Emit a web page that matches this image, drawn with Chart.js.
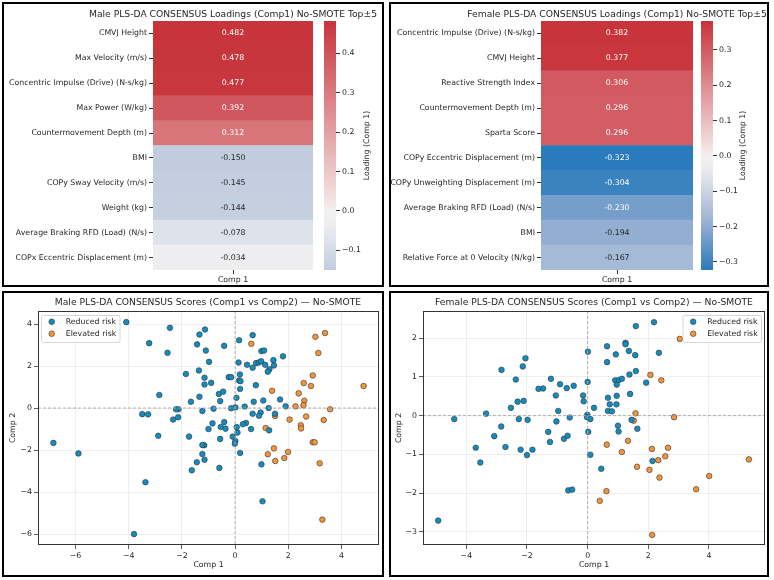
<!DOCTYPE html>
<html>
<head>
<meta charset="utf-8">
<script src="https://cdn.jsdelivr.net/npm/chart.js@4.4.1/dist/chart.umd.min.js"></script>
<style>
  html, body { margin: 0; padding: 0; background: #fff; }
  body { width: 774px; height: 580px; position: relative; overflow: hidden; font-family: "DejaVu Sans", sans-serif; }
  canvas { position: absolute; }
  .frame { position: absolute; border: 2px solid #000; box-sizing: border-box; pointer-events: none; z-index: 5; }
  .title { position: absolute; width: 400px; text-align: center; font-size: 9.2px; line-height: 12px; color: #262626; white-space: nowrap; z-index: 4; }
</style>
</head>
<body>
<canvas id="maleHeat" width="387" height="290" style="left:0;top:0"></canvas>
<canvas id="maleBar" width="67" height="290" style="left:320px;top:0"></canvas>
<canvas id="femaleHeat" width="387" height="290" style="left:387px;top:0"></canvas>
<canvas id="femaleBar" width="67" height="290" style="left:697px;top:0"></canvas>
<canvas id="maleScores" width="387" height="290" style="left:0;top:290px"></canvas>
<canvas id="femaleScores" width="387" height="290" style="left:387px;top:290px"></canvas>

<div class="title" style="left:33px;top:8px">Male PLS-DA CONSENSUS Loadings (Comp1) No-SMOTE Top±5</div>
<div class="title" style="left:417px;top:8px">Female PLS-DA CONSENSUS Loadings (Comp1) No-SMOTE Top±5</div>
<div class="title" style="left:8px;top:296px">Male PLS-DA CONSENSUS Scores (Comp1 vs Comp2) — No-SMOTE</div>
<div class="title" style="left:394px;top:296px">Female PLS-DA CONSENSUS Scores (Comp1 vs Comp2) — No-SMOTE</div>

<div class="frame" style="left:2px;top:2px;width:382px;height:285px"></div>
<div class="frame" style="left:389px;top:2px;width:380px;height:285px"></div>
<div class="frame" style="left:2px;top:291px;width:382px;height:286px"></div>
<div class="frame" style="left:389px;top:291px;width:380px;height:286px"></div>

<script>
// loadings (top 5 positive / top 5 negative on comp 1)
var maleFeatures = [
  "CMVJ Height", "Max Velocity (m/s)", "Concentric Impulse (Drive) (N-s/kg)",
  "Max Power (W/kg)", "Countermovement Depth (m)", "BMI", "COPy Sway Velocity (m/s)",
  "Weight (kg)", "Average Braking RFD (Load) (N/s)", "COPx Eccentric Displacement (m)"
];
var maleLoadings = [0.482, 0.478, 0.477, 0.392, 0.312, -0.150, -0.145, -0.144, -0.078, -0.034];
var maleBarTicks = [-0.1, 0.0, 0.1, 0.2, 0.3, 0.4];

var femaleFeatures = [
  "Concentric Impulse (Drive) (N-s/kg)", "CMVJ Height", "Reactive Strength Index",
  "Countermovement Depth (m)", "Sparta Score", "COPy Eccentric Displacement (m)",
  "COPy Unweighting Displacement (m)", "Average Braking RFD (Load) (N/s)", "BMI",
  "Relative Force at 0 Velocity (N/kg)"
];
var femaleLoadings = [0.382, 0.377, 0.306, 0.296, 0.296, -0.323, -0.304, -0.230, -0.194, -0.167];
var femaleBarTicks = [-0.3, -0.2, -0.1, 0.0, 0.1, 0.2, 0.3];

// scores [comp1, comp2]
var maleReduced = [
  [-4.09,4.09],[-2.45,3.82],[-3.23,3.09],[-2.54,2.63],[-1.34,3.50],[-1.13,3.74],[-1.43,3.03],
  [-1.10,2.74],[-0.41,2.96],[-0.98,2.20],[-1.85,1.62],[-1.36,1.79],[-1.15,1.44],[-0.90,1.20],
  [-1.15,1.12],[-2.85,0.62],[-1.66,0.30],[-1.34,0.54],[-1.23,-0.14],[-0.81,-0.03],[-0.61,0.67],
  [-0.45,0.78],[-0.56,0.33],[-0.24,1.47],[-0.15,1.47],[0.15,3.23],[0.66,3.47],[0.13,2.17],
  [0.18,1.60],[0.15,1.31],[0.20,1.28],[0.19,0.91],[0.05,0.49],[0.45,2.06],[0.66,1.92],
  [0.79,2.14],[0.89,2.17],[0.99,2.71],[1.09,2.74],[0.98,2.23],[1.13,2.06],[1.44,2.28],
  [1.46,2.03],[1.80,2.46],[1.29,1.85],[1.23,1.73],[0.78,1.09],[0.70,0.30],[1.06,0.36],
  [1.69,0.41],[1.26,0.00],[1.90,0.08],[0.36,0.07],[0.01,0.03],[-0.15,-0.01],[0.66,-0.27],
  [0.96,-0.21],[0.90,-0.37],[1.50,-0.27],[1.28,-1.06],[0.60,-1.00],[0.41,-0.71],[0.29,-0.77],
  [0.06,-0.91],[0.09,-1.17],[-0.09,-1.36],[0.01,-1.57],[-0.01,-1.70],[0.19,-2.14],[0.99,-2.68],
  [1.03,-4.44],[-0.41,-0.67],[-0.54,-0.90],[-0.36,-0.98],[-1.00,-1.00],[-0.85,-0.73],
  [-0.56,-1.47],[-0.59,-2.85],[-1.16,-1.77],[-1.23,-1.76],[-1.23,-2.19],[-1.15,-2.46],
  [-1.44,-2.58],[-1.63,-2.96],[-1.73,-1.36],[-2.13,-0.06],[-2.22,-0.06],[-2.14,-0.44],
  [-2.33,-0.55],[-2.89,-1.32],[-3.49,-0.29],[-3.27,-0.30],[-3.37,-3.53],[-3.80,-6.00],
  [-6.83,-1.66],[-5.89,-2.16]
];
var maleElevated = [
  [0.61,3.06],[3.02,3.39],[3.38,3.57],[3.13,2.62],[2.92,1.55],[2.58,1.19],[2.85,1.05],
  [2.39,0.70],[2.60,0.35],[2.57,0.13],[2.27,0.08],[3.57,-0.06],[4.83,1.05],[2.67,-0.40],
  [2.05,-0.55],[3.33,-0.57],[1.39,0.82],[1.50,-0.38],[2.47,-0.82],[2.48,-0.97],[1.15,-0.95],
  [1.46,-1.92],[1.23,-2.20],[1.51,-2.52],[1.99,-2.09],[1.85,-2.38],[2.92,-1.63],[2.99,-1.63],
  [3.18,-2.63],[3.28,-5.31]
];
var maleXTicks = [-6, -4, -2, 0, 2, 4];
var maleYTicks = [-6, -4, -2, 0, 2, 4];

var femaleReduced = [
  [-4.93,-2.71],[-4.40,-0.09],[-3.69,-0.83],[-3.54,-1.21],[-3.35,0.05],[-3.08,-0.53],
  [-2.85,-0.28],[-2.84,1.18],[-2.71,-0.81],[-2.53,0.20],[-2.37,0.93],[-2.31,0.36],[-2.11,0.38],
  [-2.27,-0.09],[-2.21,-0.88],[-2.14,1.27],[-2.05,1.48],[-2.00,-1.02],[-1.98,-0.11],
  [-1.82,-0.88],[-1.62,0.69],[-1.47,0.70],[-1.30,-0.42],[-1.24,-0.68],[-1.21,0.95],
  [-1.05,0.52],[-1.03,-0.15],[-0.97,0.12],[-0.91,0.81],[-0.78,-0.60],[-0.69,0.71],
  [-0.66,-0.52],[-0.59,-0.05],[-0.64,-1.93],[-0.51,-1.91],[-0.46,0.77],[-0.15,0.52],
  [-0.13,0.37],[-0.01,0.02],[-0.02,-0.04],[0.09,-0.09],[0.02,-0.42],[0.09,-1.01],[0.21,0.20],
  [0.00,0.87],[0.01,1.65],[0.45,-1.37],[0.64,1.79],[0.64,1.38],[0.67,0.46],[0.73,0.29],
  [0.67,0.12],[0.80,0.11],[0.93,1.58],[0.91,0.91],[0.96,0.80],[0.96,0.51],[0.95,0.29],
  [1.00,-0.26],[1.02,-0.41],[1.03,0.92],[1.13,0.95],[1.25,1.88],[1.25,1.84],[1.36,1.67],
  [1.38,1.06],[1.40,0.56],[1.45,-0.11],[1.57,1.56],[1.59,2.31],[1.59,1.15],[1.64,-0.34],
  [1.93,0.85],[2.19,2.41],[2.35,1.62],[2.14,-1.17]
];
var femaleElevated = [
  [3.04,1.98],[2.07,1.05],[2.43,0.91],[1.58,0.06],[1.52,-0.13],[2.85,-0.04],[0.63,-0.75],
  [1.33,-0.65],[1.13,-0.94],[2.12,-0.86],[2.65,-0.83],[2.56,-1.05],[2.33,-1.15],[1.63,-1.32],
  [2.04,-1.40],[2.37,-1.60],[0.62,-1.95],[0.40,-2.20],[4.01,-1.56],[3.58,-1.90],[5.32,-1.13],
  [2.13,-3.08]
];
var femaleXTicks = [-4, -2, 0, 2, 4];
var femaleYTicks = [-3, -2, -1, 0, 1, 2];

var FONT = "'DejaVu Sans', sans-serif";
var TEXT = "#262626";
var SMALL = 7.8;
var REDUCED_COLOR = "#138dc0";
var ELEVATED_COLOR = "#f2953a";

// diverging palette, blue -> light grey -> red (position 0..1)
var cmapStops = [
  [0.000, [30, 115, 188]],
  [0.077, [42, 123, 190]],
  [0.102, [58, 130, 192]],
  [0.199, [118, 158, 203]],
  [0.246, [148, 174, 210]],
  [0.281, [165, 186, 215]],
  [0.344, [193, 205, 223]],
  [0.419, [222, 226, 234]],
  [0.465, [238, 237, 239]],
  [0.500, [242, 242, 242]],
  [0.504, [245, 236, 236]],
  [1.000, [200, 52, 60]]
];

function cmapRgb(t) {
  t = Math.max(0, Math.min(1, t));
  for (var i = 1; i < cmapStops.length; i++) {
    if (t <= cmapStops[i][0]) {
      var a = cmapStops[i - 1], b = cmapStops[i];
      var f = (t - a[0]) / (b[0] - a[0]);
      return [0, 1, 2].map(function (k) {
        return Math.round(a[1][k] + f * (b[1][k] - a[1][k]));
      });
    }
  }
  return cmapStops[cmapStops.length - 1][1];
}

function loadingRgb(v, vmin, vmax) {
  var range = Math.max(vmax, -vmin);
  return cmapRgb(0.5 + v / (2 * range));
}

function rgbStr(c) {
  return "rgb(" + c[0] + "," + c[1] + "," + c[2] + ")";
}

function luminance(c) {
  var lin = c.map(function (x) {
    x = x / 255;
    return x <= 0.03928 ? x / 12.92 : Math.pow((x + 0.055) / 1.055, 2.4);
  });
  return 0.2126 * lin[0] + 0.7152 * lin[1] + 0.0722 * lin[2];
}

function minus(s) {
  return String(s).replace("-", "\u2212");
}

function fixedTicks(list) {
  return function (scale) {
    scale.ticks = list.map(function (v) { return { value: v }; });
  };
}

// text inside heatmap cells
var cellValues = {
  id: "cellValues",
  afterDatasetsDraw: function (chart, args, opts) {
    var ctx = chart.ctx;
    var meta = chart.getDatasetMeta(0);
    ctx.save();
    ctx.font = SMALL + "px " + FONT;
    ctx.textAlign = "center";
    ctx.textBaseline = "middle";
    meta.data.forEach(function (bar, i) {
      var v = opts.values[i];
      var c = loadingRgb(v, opts.vmin, opts.vmax);
      ctx.fillStyle = luminance(c) > 0.408 ? TEXT : "#ffffff";
      ctx.fillText(v.toFixed(3), (bar.x + bar.base) / 2, bar.y);
    });
    ctx.restore();
  }
};

// rotated label next to the colour bar
var barLabel = {
  id: "barLabel",
  afterDraw: function (chart, args, opts) {
    var a = chart.chartArea, ctx = chart.ctx;
    ctx.save();
    ctx.translate(a.right + opts.offset, (a.top + a.bottom) / 2);
    ctx.rotate(-Math.PI / 2);
    ctx.font = SMALL + "px " + FONT;
    ctx.fillStyle = TEXT;
    ctx.textAlign = "center";
    ctx.textBaseline = "middle";
    ctx.fillText(opts.text, 0, 0);
    ctx.restore();
  }
};

// dashed zero lines
var zeroLines = {
  id: "zeroLines",
  afterDatasetsDraw: function (chart) {
    var a = chart.chartArea, ctx = chart.ctx;
    var x0 = chart.scales.x.getPixelForValue(0);
    var y0 = chart.scales.y.getPixelForValue(0);
    ctx.save();
    ctx.strokeStyle = "#a8a8a8";
    ctx.lineWidth = 0.9;
    ctx.setLineDash([3, 2]);
    ctx.beginPath();
    ctx.moveTo(x0, a.top); ctx.lineTo(x0, a.bottom);
    ctx.moveTo(a.left, y0); ctx.lineTo(a.right, y0);
    ctx.stroke();
    ctx.restore();
  }
};

// axes box around the plot area
var frameBox = {
  id: "frameBox",
  afterDatasetsDraw: function (chart) {
    var a = chart.chartArea, ctx = chart.ctx;
    ctx.save();
    ctx.strokeStyle = "#333333";
    ctx.lineWidth = 1;
    ctx.strokeRect(a.left + 0.5, a.top + 0.5, a.right - a.left - 1, a.bottom - a.top - 1);
    ctx.restore();
  }
};

// legend box inside the plot area
var boxLegend = {
  id: "boxLegend",
  afterDraw: function (chart, args, opts) {
    var a = chart.chartArea, ctx = chart.ctx;
    var sets = chart.data.datasets;
    ctx.save();
    ctx.font = SMALL + "px " + FONT;
    var textW = 0;
    sets.forEach(function (d) { textW = Math.max(textW, ctx.measureText(d.label).width); });
    var w = textW + 28, h = 27;
    var x = opts.side === "right" ? a.right - 4 - w : a.left + 3;
    var y = a.top + 4;
    ctx.fillStyle = "rgba(255,255,255,0.8)";
    ctx.strokeStyle = "#cccccc";
    ctx.lineWidth = 0.8;
    ctx.beginPath();
    ctx.roundRect(x + 0.5, y + 0.5, w, h, 2);
    ctx.fill();
    ctx.stroke();
    sets.forEach(function (d, i) {
      var ry = y + 6.7 + i * 12;
      ctx.beginPath();
      ctx.arc(x + 10.7, ry, 2.8, 0, Math.PI * 2);
      ctx.fillStyle = d.backgroundColor;
      ctx.fill();
      ctx.strokeStyle = "#333333";
      ctx.lineWidth = 0.6;
      ctx.stroke();
      ctx.fillStyle = TEXT;
      ctx.textAlign = "left";
      ctx.textBaseline = "middle";
      ctx.fillText(d.label, x + 24.7, ry);
    });
    ctx.restore();
  }
};

function makeHeatmap(id, features, loadings, axisWidth, padRight) {
  var vmin = Math.min.apply(null, loadings);
  var vmax = Math.max.apply(null, loadings);
  new Chart(document.getElementById(id), {
    type: "bar",
    data: {
      labels: features,
      datasets: [{
        data: features.map(function () { return 1; }),
        backgroundColor: loadings.map(function (v) { return rgbStr(loadingRgb(v, vmin, vmax)); }),
        borderWidth: 0,
        barPercentage: 1,
        categoryPercentage: 1
      }]
    },
    options: {
      indexAxis: "y",
      responsive: false,
      animation: false,
      devicePixelRatio: 1,
      layout: { padding: { top: 21, right: padRight, bottom: 0, left: 0 } },
      plugins: {
        legend: { display: false },
        tooltip: { enabled: false },
        cellValues: { values: loadings, vmin: vmin, vmax: vmax }
      },
      scales: {
        x: {
          type: "linear",
          min: 0,
          max: 1,
          afterBuildTicks: fixedTicks([0.5]),
          afterFit: function (s) { s.height = 20; },
          ticks: {
            callback: function () { return "Comp 1"; },
            font: { family: FONT, size: SMALL },
            color: TEXT,
            padding: 1,
            maxRotation: 0
          },
          grid: { drawOnChartArea: false, tickLength: 4, tickColor: "#333" },
          border: { display: false }
        },
        y: {
          afterFit: function (s) { s.width = axisWidth; },
          ticks: {
            font: { family: FONT, size: SMALL },
            color: TEXT,
            padding: 2,
            autoSkip: false
          },
          grid: { offset: false, drawOnChartArea: false, tickLength: 4, tickColor: "#333" },
          border: { display: false }
        }
      }
    },
    plugins: [cellValues]
  });
}

function makeColorBar(id, loadings, ticks, labelOffset) {
  var vmin = Math.min.apply(null, loadings);
  var vmax = Math.max.apply(null, loadings);
  new Chart(document.getElementById(id), {
    type: "bar",
    data: {
      labels: ["bar"],
      datasets: [{
        data: [[vmin, vmax]],
        backgroundColor: function (c) {
          var chart = c.chart;
          if (!chart.chartArea) return null;
          var y = chart.scales.y;
          var top = y.getPixelForValue(vmax), bottom = y.getPixelForValue(vmin);
          var g = chart.ctx.createLinearGradient(0, bottom, 0, top);
          for (var i = 0; i <= 60; i++) {
            var v = vmin + (vmax - vmin) * i / 60;
            g.addColorStop(i / 60, rgbStr(loadingRgb(v, vmin, vmax)));
          }
          return g;
        },
        borderWidth: 0,
        barPercentage: 1,
        categoryPercentage: 1
      }]
    },
    options: {
      responsive: false,
      animation: false,
      devicePixelRatio: 1,
      layout: { padding: { top: 21, right: 0, bottom: 20, left: 4 } },
      plugins: {
        legend: { display: false },
        tooltip: { enabled: false },
        barLabel: { text: "Loading (Comp 1)", offset: labelOffset }
      },
      scales: {
        x: { display: false },
        y: {
          position: "right",
          min: vmin,
          max: vmax,
          afterBuildTicks: fixedTicks(ticks),
          afterFit: function (s) { s.width = 51; },
          ticks: {
            callback: function (v) { return minus(v.toFixed(1)); },
            font: { family: FONT, size: SMALL },
            color: TEXT,
            padding: 2
          },
          grid: { drawOnChartArea: false, tickLength: 4, tickColor: "#333" },
          border: { display: false }
        }
      }
    },
    plugins: [barLabel]
  });
}

function toPoints(list) {
  return list.map(function (p) { return { x: p[0], y: p[1] }; });
}

function makeScores(id, reduced, elevated, xr, yr, xTicks, yTicks, axisWidth, padRight, legendSide, yTitlePad) {
  var pointStyle = { borderColor: "#333333", borderWidth: 0.6, pointRadius: 2.8 };
  new Chart(document.getElementById(id), {
    type: "scatter",
    data: {
      datasets: [
        Object.assign({ label: "Reduced risk", data: toPoints(reduced), backgroundColor: REDUCED_COLOR }, pointStyle),
        Object.assign({ label: "Elevated risk", data: toPoints(elevated), backgroundColor: ELEVATED_COLOR }, pointStyle)
      ]
    },
    options: {
      responsive: false,
      animation: false,
      devicePixelRatio: 1,
      layout: { padding: { top: 21, right: padRight, bottom: 0, left: 0 } },
      plugins: {
        legend: { display: false },
        tooltip: { enabled: false },
        boxLegend: { side: legendSide }
      },
      scales: {
        x: {
          type: "linear",
          min: xr[0],
          max: xr[1],
          afterBuildTicks: fixedTicks(xTicks),
          afterFit: function (s) { s.height = 35; },
          ticks: {
            callback: function (v) { return minus(v); },
            font: { family: FONT, size: SMALL },
            color: TEXT,
            padding: 2,
            maxRotation: 0
          },
          grid: { color: "#ebebeb", lineWidth: 0.8, tickLength: 4, tickColor: "#333" },
          border: { display: false },
          title: {
            display: true,
            text: "Comp 1",
            font: { family: FONT, size: SMALL },
            color: TEXT,
            padding: { top: 0, bottom: 10.5 }
          }
        },
        y: {
          type: "linear",
          min: yr[0],
          max: yr[1],
          afterBuildTicks: fixedTicks(yTicks),
          afterFit: function (s) { s.width = axisWidth; },
          ticks: {
            callback: function (v) { return minus(v); },
            font: { family: FONT, size: SMALL },
            color: TEXT,
            padding: 2
          },
          grid: { color: "#ebebeb", lineWidth: 0.8, tickLength: 4, tickColor: "#333" },
          border: { display: false },
          title: {
            display: true,
            text: "Comp 2",
            font: { family: FONT, size: SMALL },
            color: TEXT,
            padding: { top: yTitlePad, bottom: 0 }
          }
        }
      }
    },
    plugins: [zeroLines, frameBox, boxLegend]
  });
}

makeHeatmap("maleHeat", maleFeatures, maleLoadings, 153, 74);
makeColorBar("maleBar", maleLoadings, maleBarTicks, 31);
makeHeatmap("femaleHeat", femaleFeatures, femaleLoadings, 154, 81);
makeColorBar("femaleBar", femaleLoadings, femaleBarTicks, 30);
makeScores("maleScores", maleReduced, maleElevated, [-7.41, 5.41], [-6.52, 4.62],
  maleXTicks, maleYTicks, 38, 8, "left", 8.5);
makeScores("femaleScores", femaleReduced, femaleElevated, [-5.43, 5.85], [-3.34, 2.70],
  femaleXTicks, femaleYTicks, 36, 9, "right", 7);
</script>
</body>
</html>
